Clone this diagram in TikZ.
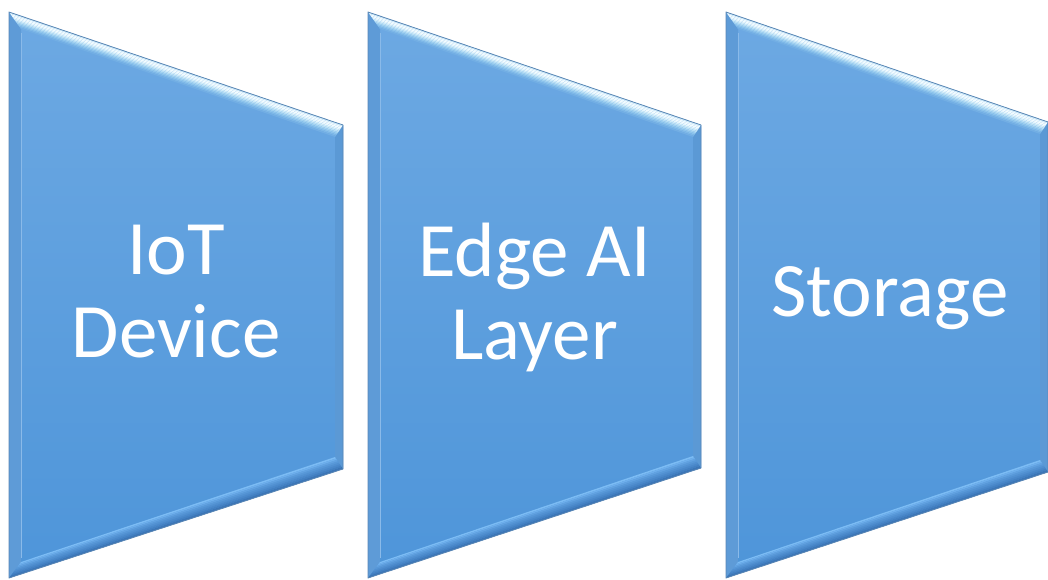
\documentclass[tikz,border=0pt]{standalone}
\usepackage{fontspec}
\setmainfont{Carlito}
\usetikzlibrary{calc}

\definecolor{faceTop}{HTML}{6DA9E3}
\definecolor{faceBot}{HTML}{4E95D9}
\definecolor{bevLeft}{HTML}{5E9BD7}
\definecolor{bevRight}{HTML}{5B99D5}
\definecolor{rim}{HTML}{5A86B4}

\tikzset{
  stagelabel/.style={text=white, align=center, inner sep=0pt,
    font=\fontsize{77pt}{83pt}\selectfont},
  rimline/.style={draw=rim, line width=0.8pt, line join=round},
}

\begin{document}
\begin{tikzpicture}[x=1pt,y=-1pt]
\useasboundingbox (0,0) rectangle (1048,579);

% one bevelled trapezoid per stage: left x, right x, top-right y, bottom-right y
\foreach \n/\xa/\xb/\yt/\yb in {iot/9/343/125/469, edge/368/701/125/468, store/726/1048/122/472}{
  \coordinate (\n-otl) at (\xa,12);
  \coordinate (\n-otr) at (\xb,\yt);
  \coordinate (\n-obr) at (\xb,\yb);
  \coordinate (\n-obl) at (\xa,578);
  \coordinate (\n-itl) at (\xa+12,29);
  \coordinate (\n-itr) at (\xb-8,\yt+12);
  \coordinate (\n-ibr) at (\xb-8,\yb-12);
  \coordinate (\n-ibl) at (\xa+12,562);
  % face
  \shade[top color=faceTop, bottom color=faceBot]
    (\n-otl) -- (\n-otr) -- (\n-obr) -- (\n-obl) -- cycle;
  % side bevels
  \fill[bevLeft] (\n-otl) -- (\n-itl) -- (\n-ibl) -- (\n-obl) -- cycle;
  \fill[bevRight] (\n-otr) -- (\n-itr) -- (\n-ibr) -- (\n-obr) -- cycle;
  \draw[faceTop!80!white, line width=1pt] ($(\n-itl)+(0,4)$) -- ($(\n-ibl)+(0,-4)$);
  % bottom bevel in bands: light at the inner edge, dark at the rim
  \foreach \ta/\tb/\c in {0/0.12/7CBCF4, 0.12/0.24/6EAFEC, 0.24/0.36/62A2E1,
                          0.36/0.48/5898D8, 0.48/0.6/5190D1, 0.6/0.72/4A88CA,
                          0.72/0.84/4380C2, 0.84/1/3C76B7}{
    \definecolor{bandcol}{HTML}{\c}
    \fill[bandcol] ($(\n-ibl)!\ta!(\n-obl)$) -- ($(\n-ibr)!\ta!(\n-obr)$)
      -- ($(\n-ibr)!\tb!(\n-obr)$) -- ($(\n-ibl)!\tb!(\n-obl)$) -- cycle;
  }
  % top bevel in bands: bright highlight near the rim
  \foreach \ta/\tb/\c in {0/0.1/D0ECFA, 0.1/0.2/EDF9FF, 0.2/0.3/F3FCFF,
                          0.3/0.4/E8F7FE, 0.4/0.5/D2EDFA, 0.5/0.6/BAE0F6,
                          0.6/0.7/A2D2F1, 0.7/0.8/8EC5ED, 0.8/0.9/7EB8E8,
                          0.9/1/72AEE4}{
    \definecolor{bandcol}{HTML}{\c}
    \fill[bandcol] ($(\n-otl)!\ta!(\n-itl)$) -- ($(\n-otr)!\ta!(\n-itr)$)
      -- ($(\n-otr)!\tb!(\n-itr)$) -- ($(\n-otl)!\tb!(\n-itl)$) -- cycle;
  }
  % rim
  \draw[rimline] (\n-otl) -- (\n-otr) -- (\n-obr) -- (\n-obl) -- cycle;
}

\node[stagelabel] (iotlabel) at (176,291.5) {IoT\\Device};
\node[stagelabel] (edgelabel) at (534.5,297) {Edge AI\\Layer};
\node[stagelabel] (storelabel) at (890,298) {Storage};
\end{tikzpicture}
\end{document}
